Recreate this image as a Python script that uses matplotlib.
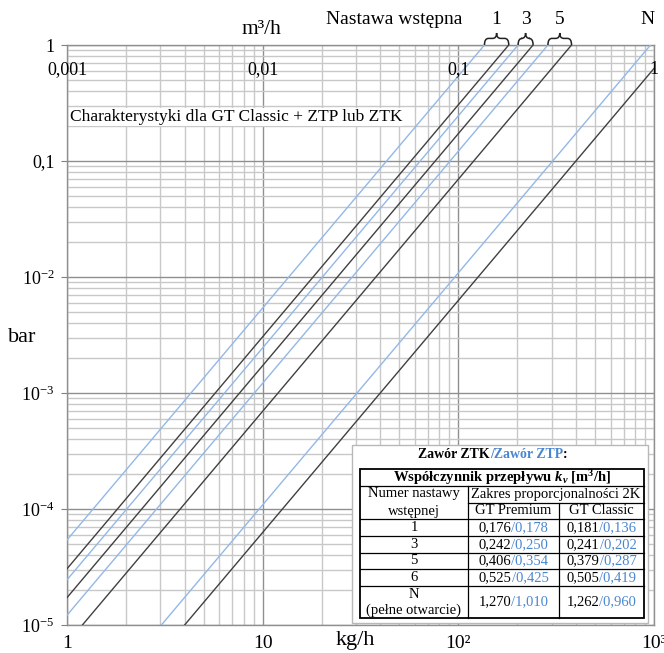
import numpy as np
import matplotlib
matplotlib.use('Agg')
import matplotlib.pyplot as plt
from matplotlib.path import Path
from matplotlib.patches import PathPatch, Rectangle
from matplotlib.lines import Line2D
from matplotlib.offsetbox import TextArea, HPacker, AnnotationBbox
from matplotlib.ticker import LogLocator, NullFormatter

plt.rcParams['font.family'] = ['Liberation Serif', 'DejaVu Serif']
plt.rcParams['mathtext.fontset'] = 'custom'
plt.rcParams['mathtext.rm'] = 'Liberation Serif'
plt.rcParams['mathtext.it'] = 'Liberation Serif:italic:bold'
plt.rcParams['mathtext.bf'] = 'Liberation Serif:bold'

# ---------------- data ----------------
settings = ['1', '3', '5', '6', 'N']
kv_premium_ztk = [0.176, 0.242, 0.406, 0.525, 1.270]
kv_premium_ztp = [0.178, 0.250, 0.354, 0.425, 1.010]
kv_classic_ztk = [0.181, 0.241, 0.379, 0.505, 1.262]
kv_classic_ztp = [0.136, 0.202, 0.287, 0.419, 0.960]
plotted_settings = ['1', '3', '5', 'N']
brace_settings = ['1', '3', '5']

flow_lim = [1, 1000]          # kg/h
dp_lim = [1e-5, 1]            # bar
x_major = [1, 10, 100, 1000]
x_tick_labels = ['1', '10', '10²', '10³']
y_major = [1e-5, 1e-4, 1e-3, 1e-2, 0.1, 1]
y_tick_labels = [r'$10^{-5}$', r'$10^{-4}$', r'$10^{-3}$', r'$10^{-2}$', '0,1', '1']
top_tick_labels = ['0,001', '0,01', '0,1', '1']   # m3/h

BLACK_LINE = '#404040'
BLUE_LINE = '#92b8e8'
BLUE_TXT = '#4a86d0'

W, H = 664, 653
fig = plt.figure(figsize=(W / 100, H / 100), dpi=100)

def fx(px):
    return px / W

def fy(py):
    return (H - py) / H

ax_l, ax_r, ax_t, ax_b = 67, 654, 45, 625
ax = fig.add_axes([fx(ax_l), fy(ax_b), (ax_r - ax_l) / W, (ax_b - ax_t) / H])
ax.set_xscale('log')
ax.set_yscale('log')
ax.set_xlim(flow_lim)
ax.set_ylim(dp_lim)

# characteristic lines: dp = (Q / (1000*kv))^2
Q_ends = np.array([0.1, 1e4])
for s in plotted_settings:
    i = settings.index(s)
    for kv, col in ((kv_classic_ztp[i], BLUE_LINE), (kv_classic_ztk[i], BLACK_LINE)):
        ax.plot(Q_ends, (Q_ends / (1000 * kv)) ** 2, color=col, lw=1.0, zorder=3)

ax.set_xticks(x_major, x_tick_labels)
ax.set_yticks(y_major, y_tick_labels)
ax.xaxis.set_minor_locator(LogLocator(base=10, subs=range(2, 10), numticks=20))
ax.yaxis.set_minor_locator(LogLocator(base=10, subs=range(2, 10), numticks=20))
ax.xaxis.set_minor_formatter(NullFormatter())
ax.yaxis.set_minor_formatter(NullFormatter())
ax.tick_params(axis='x', which='both', length=0, labelsize=14, pad=7)
ax.tick_params(axis='y', which='major', length=4, color='#808080', labelsize=13, pad=5)
ax.tick_params(axis='y', which='minor', length=0)
ax.grid(which='major', color='#8f8f8f', lw=1.0, zorder=1)
ax.grid(which='minor', color='#c8c8c8', lw=1.0, zorder=1)
ax.set_axisbelow(True)
for sp in ax.spines.values():
    sp.set_color('#8f8f8f')
    sp.set_linewidth(1.0)

# top axis labels (m3/h) inside the plot
for xv, lab in zip(x_major, top_tick_labels):
    ax.text(xv, 0.61, lab, ha='center', va='center', fontsize=13, zorder=4)

ax.text(1.03, 0.24, 'Charakterystyki dla GT Classic + ZTP lub ZTK', ha='left', va='center',
        fontsize=12.5, zorder=4,
        bbox=dict(boxstyle='square,pad=0.05', fc='white', ec='none'))

# axis titles
fig.text(fx(261), fy(30), 'm³/h', ha='center', va='center', fontsize=15.5)
fig.text(fx(22), fy(338), 'bar', ha='center', va='center', fontsize=16)
fig.text(fx(355), fy(640), 'kg/h', ha='center', va='center', fontsize=16)
fig.text(fx(394), fy(19), 'Nastawa wstępna', ha='center', va='center', fontsize=14)

# braces + setting labels above the top axis
def xpix(q):
    return ax.transData.transform((q, 1.0))[0]

fig_w_px = fig.bbox.width
yb = fy(ax_t)
hh = 12 / H
for s in brace_settings:
    i = settings.index(s)
    x0 = xpix(kv_classic_ztp[i] * 1000) / fig_w_px
    x1 = xpix(kv_classic_ztk[i] * 1000) / fig_w_px
    xm = (x0 + x1) / 2
    r = 4 / W
    ym = yb + hh * 0.55
    verts = [(x0, yb), (x0, ym), (x0 + r, ym), (xm - r, ym), (xm, ym), (xm, yb + hh),
             (xm, ym), (xm + r, ym), (x1 - r, ym), (x1, ym), (x1, yb)]
    codes = [Path.MOVETO, Path.CURVE3, Path.CURVE3, Path.LINETO, Path.CURVE3, Path.CURVE3,
             Path.CURVE3, Path.CURVE3, Path.LINETO, Path.CURVE3, Path.CURVE3]
    fig.add_artist(PathPatch(Path(verts, codes), fc='none', ec='#222222', lw=1.1,
                             transform=fig.transFigure))
    fig.text(xm, fy(19), s, ha='center', va='center', fontsize=14)
iN = settings.index('N')
fig.text(xpix(kv_classic_ztp[iN] * 1000) / fig_w_px - 3 / W, fy(19), 'N', ha='center',
         va='center', fontsize=14)

# ---------------- table ----------------
fig.add_artist(Rectangle((fx(352), fy(623)), (648 - 352) / W, (623 - 445) / H,
                         transform=fig.transFigure, fc='white', ec='#b8b8b8', lw=1.0,
                         zorder=5))

def seg_text(x, y, parts, size=10.5, weight='normal'):
    boxes = [TextArea(t, textprops=dict(color=c, fontsize=size, fontweight=weight,
                                        family='Liberation Serif'))
             for t, c in parts]
    pack = HPacker(children=boxes, align='baseline', pad=0, sep=0)
    ab = AnnotationBbox(pack, (fx(x), fy(y)), xycoords='figure fraction',
                        frameon=False, pad=0, box_alignment=(0.5, 0.5), zorder=8)
    fig.add_artist(ab)

def hline(y, xa, xb, lw=0.9):
    fig.add_artist(Line2D([fx(xa), fx(xb)], [fy(y), fy(y)], color='black', lw=lw,
                          transform=fig.transFigure, zorder=7))

def vline(x, ya, yb_, lw=0.9):
    fig.add_artist(Line2D([fx(x), fx(x)], [fy(ya), fy(yb_)], color='black', lw=lw,
                          transform=fig.transFigure, zorder=7))

seg_text(493, 455, [('Zawór ZTK', 'black'), ('/Zawór ZTP', BLUE_TXT), (':', 'black')],
         size=10, weight='bold')

tx0, tx1, tx2, tx3 = 360, 468, 559, 644
rows = [469, 486, 503, 519, 536, 553, 569, 586, 618]
fig.add_artist(Rectangle((fx(tx0), fy(rows[-1])), (tx3 - tx0) / W, (rows[-1] - rows[0]) / H,
                         transform=fig.transFigure, fc='none', ec='black', lw=1.3, zorder=7))
hline(rows[1], tx0, tx3)
hline(rows[2], tx1, tx3)
for yy in rows[3:-1]:
    hline(yy, tx0, tx3)
vline(tx1, rows[1], rows[-1])
vline(tx2, rows[2], rows[-1])

cx1, cx2, cx3 = (tx0 + tx1) / 2, (tx1 + tx2) / 2, (tx2 + tx3) / 2
fig.text(fx((tx0 + tx3) / 2), fy(477.5),
         r'Współczynnik przepływu $k_{v}$ [m$^{\mathbf{3}}$/h]',
         ha='center', va='center', fontsize=10.5, fontweight='bold', zorder=8)
fig.text(fx(cx1), fy(494), 'Numer nastawy', ha='center', va='center', fontsize=10.5, zorder=8)
fig.text(fx(cx1), fy(511), 'wstępnej', ha='center', va='center', fontsize=10.5, zorder=8)
fig.text(fx((tx1 + tx3) / 2), fy(494.5), 'Zakres proporcjonalności 2K', ha='center',
         va='center', fontsize=10.5, zorder=8)
fig.text(fx(cx2), fy(511), 'GT Premium', ha='center', va='center', fontsize=10.5, zorder=8)
fig.text(fx(cx3), fy(511), 'GT Classic', ha='center', va='center', fontsize=10.5, zorder=8)

def fmt(v):
    return f'{v:.3f}'.replace('.', ',')

for k, s in enumerate(settings):
    ya, yb2 = rows[3 + k], rows[4 + k]
    yc = (ya + yb2) / 2
    if s == 'N':
        fig.text(fx(cx1), fy(yc - 8), 'N', ha='center', va='center', fontsize=10.5, zorder=8)
        fig.text(fx(cx1), fy(yc + 8), '(pełne otwarcie)', ha='center', va='center',
                 fontsize=10.5, zorder=8)
    else:
        fig.text(fx(cx1), fy(yc), s, ha='center', va='center', fontsize=10.5, zorder=8)
    seg_text(cx2, yc, [(fmt(kv_premium_ztk[k]), 'black'), ('/' + fmt(kv_premium_ztp[k]), BLUE_TXT)])
    seg_text(cx3, yc, [(fmt(kv_classic_ztk[k]), 'black'), ('/' + fmt(kv_classic_ztp[k]), BLUE_TXT)])

fig.savefig('out.png', dpi=100)
